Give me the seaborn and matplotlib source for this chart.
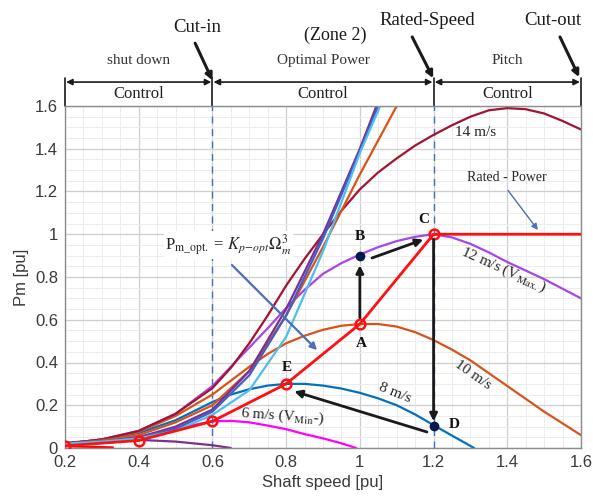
import numpy as np
import pandas as pd
import seaborn as sns
import matplotlib.pyplot as plt
from matplotlib.ticker import MultipleLocator

# power curves: shaft speed [pu] -> Pm [pu]
curves = {
    '4 m/s': ([0.2, 0.3, 0.4, 0.5, 0.6, 0.65],
              [0.025, 0.035, 0.038, 0.03, 0.013, 0.0]),
    '6 m/s': ([0.2, 0.3, 0.4, 0.5, 0.6, 0.65, 0.7, 0.75, 0.8, 0.85, 0.9, 0.95, 0.99],
              [0.015, 0.03, 0.05, 0.09, 0.125, 0.127, 0.12, 0.105, 0.088, 0.065, 0.045, 0.022, 0.0]),
    '8 m/s': ([0.2, 0.3, 0.4, 0.5, 0.6, 0.65, 0.7, 0.75, 0.8, 0.85, 0.9, 0.95, 1.0, 1.05, 1.1, 1.15, 1.2, 1.25, 1.31],
              [0.02, 0.04, 0.07, 0.13, 0.215, 0.25, 0.275, 0.292, 0.3, 0.3, 0.292, 0.278, 0.258, 0.232, 0.2, 0.157, 0.107, 0.058, 0.0]),
    '10 m/s': ([0.2, 0.3, 0.4, 0.5, 0.6, 0.7, 0.75, 0.8, 0.85, 0.9, 0.95, 1.0, 1.05, 1.1, 1.15, 1.2, 1.25, 1.3, 1.35, 1.4, 1.45, 1.5, 1.55, 1.6],
               [0.02, 0.04, 0.075, 0.15, 0.25, 0.38, 0.44, 0.49, 0.525, 0.553, 0.572, 0.58, 0.58, 0.568, 0.542, 0.505, 0.46, 0.41, 0.35, 0.29, 0.23, 0.17, 0.115, 0.06]),
    '12 m/s': ([0.2, 0.3, 0.4, 0.5, 0.6, 0.7, 0.75, 0.8, 0.85, 0.9, 0.95, 1.0, 1.05, 1.1, 1.15, 1.2, 1.25, 1.3, 1.35, 1.4, 1.45, 1.5, 1.55, 1.6],
               [0.02, 0.04, 0.08, 0.16, 0.29, 0.47, 0.56, 0.655, 0.74, 0.815, 0.865, 0.905, 0.94, 0.968, 0.988, 1.0, 0.985, 0.955, 0.915, 0.87, 0.83, 0.79, 0.745, 0.70]),
    '14 m/s': ([0.2, 0.3, 0.4, 0.5, 0.6, 0.65, 0.7, 0.75, 0.8, 0.85, 0.9, 0.95, 1.0, 1.05, 1.1, 1.15, 1.2, 1.25, 1.3, 1.35, 1.4, 1.45, 1.5, 1.55, 1.6],
               [0.02, 0.04, 0.08, 0.16, 0.28, 0.375, 0.49, 0.62, 0.76, 0.885, 1.0, 1.11, 1.21, 1.29, 1.355, 1.415, 1.465, 1.51, 1.55, 1.58, 1.59, 1.585, 1.565, 1.53, 1.49]),
    '16 m/s': ([0.2, 0.3, 0.4, 0.5, 0.6, 0.7, 0.8, 0.9, 1.0, 1.1],
               [0.02, 0.035, 0.06, 0.12, 0.2, 0.36, 0.62, 0.94, 1.28, 1.6]),
    '18 m/s': ([0.2, 0.3, 0.4, 0.5, 0.6, 0.7, 0.8, 0.9, 1.0, 1.045],
               [0.02, 0.03, 0.05, 0.1, 0.18, 0.36, 0.65, 1.0, 1.4, 1.6]),
    '20 m/s': ([0.2, 0.3, 0.4, 0.5, 0.6, 0.7, 0.8, 0.9, 1.0, 1.05],
               [0.02, 0.03, 0.047, 0.09, 0.17, 0.34, 0.62, 0.98, 1.39, 1.6]),
    '22 m/s': ([0.2, 0.3, 0.4, 0.5, 0.6, 0.7, 0.8, 0.9, 1.0, 1.055],
               [0.02, 0.03, 0.045, 0.08, 0.155, 0.27, 0.52, 0.92, 1.38, 1.6]),
    '2 m/s': ([0.2, 0.33], [0.008, 0.003]),
}
colors = {
    '4 m/s': '#7E2F8E', '6 m/s': '#FF00FF', '8 m/s': '#0072BD', '10 m/s': '#D95319',
    '12 m/s': '#A746E8', '14 m/s': '#A2142F', '16 m/s': '#D95319', '18 m/s': '#7E2F8E',
    '20 m/s': '#3F5FC8', '22 m/s': '#4DBEEE', '2 m/s': '#FF0000',
}

# optimal (MPPT) trajectory + rated power
opt_speed = [0.2, 0.4, 0.6, 0.8, 1.0, 1.2, 1.6]
opt_power = [0.01, 0.035, 0.125, 0.3, 0.58, 1.0, 1.0]
n_markers = 6

pts_B = (1.0, 0.9)
pts_D = (1.2, 0.105)
zone_edges = [0.2, 0.6, 1.2, 1.6]
zone_names = ['shut down', 'Optimal Power', 'Pitch']

rows = []
for name, (xs, ys) in curves.items():
    for x, y in zip(xs, ys):
        rows.append({'speed': x, 'pm': y, 'wind': name})
df = pd.DataFrame(rows)

sns.set_theme(style='whitegrid')
plt.rcParams['font.family'] = ['Liberation Sans', 'DejaVu Sans']
plt.rcParams['mathtext.fontset'] = 'stix'
serif = ['Liberation Serif', 'DejaVu Serif']

fig = plt.figure(figsize=(5.93, 5.03), dpi=100)
ax = fig.add_axes([65/593, 1-448/503, (581-65)/593, (448-106)/503])

sns.lineplot(data=df, x='speed', y='pm', hue='wind', palette=colors, estimator=None,
             sort=False, lw=1.6, legend=False, ax=ax)

ax.plot(opt_speed, opt_power, color='#FF1010', lw=2, zorder=5)
ax.plot(opt_speed[:n_markers], opt_power[:n_markers], 'o', ms=7, mfc='none', mec='#FF1010',
        mew=1.8, zorder=6)
ax.plot(*pts_B, 'o', ms=6, color='#0A1850', zorder=7)
ax.plot(*pts_D, 'o', ms=6, color='#0A1850', zorder=7)

for x in [0.6, 1.2]:
    ax.axvline(x, color='#3F6FC0', ls=(0, (5, 4)), lw=1, zorder=1)

ax.set_xlim(0.2, 1.6)
ax.set_ylim(0, 1.6)
ax.xaxis.set_minor_locator(MultipleLocator(0.05))
ax.yaxis.set_minor_locator(MultipleLocator(0.05))
ax.set_xticks(np.arange(0.2, 1.61, 0.2))
ax.set_xticklabels(['0.2', '0.4', '0.6', '0.8', '1', '1.2', '1.4', '1.6'])
ax.set_yticks(np.arange(0, 1.61, 0.2))
ax.set_yticklabels(['0', '0.2', '0.4', '0.6', '0.8', '1', '1.2', '1.4', '1.6'])
ax.grid(which='major', color='#cfcfcf', lw=0.9)
ax.grid(which='minor', color='#ececec', lw=0.7)
ax.set_facecolor('white')
for s in ax.spines.values():
    s.set_color('#8c8c8c')
    s.set_linewidth(1)
ax.tick_params(axis='both', which='major', labelsize=12, colors='#3a3a3a', length=0, pad=5)
ax.set_xlabel('Shaft speed [pu]', fontsize=12, color='#3a3a3a', labelpad=4)
ax.set_ylabel('Pm [pu]', fontsize=12, color='#3a3a3a', labelpad=4)

# header: zones and control bars
bar_y = 1.712
for x in zone_edges:
    ax.plot([x, x], [1.6, bar_y + 0.02], color='k', lw=1.2, clip_on=False)
for i in range(3):
    x0, x1 = zone_edges[i], zone_edges[i + 1]
    ax.annotate('', xy=(x1 - 0.003, bar_y), xytext=(x0 + 0.003, bar_y),
                arrowprops=dict(arrowstyle='<|-|>', color='k', lw=1.2, mutation_scale=9,
                                shrinkA=0, shrinkB=0), annotation_clip=False)
    ax.text((x0 + x1) / 2, 1.655, 'Control', ha='center', va='center', fontsize=12,
            family=serif, color='#222222', clip_on=False)
    ax.text((x0 + x1) / 2, 1.815, zone_names[i], ha='center', va='center', fontsize=11,
            family=serif, color='#333333', clip_on=False)
ax.text(0.933, 1.93, '(Zone 2)', ha='center', va='center', fontsize=13, family=serif, color='k')
ax.text(0.558, 1.965, 'Cut-in', ha='center', va='center', fontsize=13.5, family=serif, color='k')
ax.text(1.182, 2.0, 'Rated-Speed', ha='center', va='center', fontsize=13.5, family=serif, color='k')
ax.text(1.524, 2.0, 'Cut-out', ha='center', va='center', fontsize=13.5, family=serif, color='k')
for start, end in [((0.553, 1.894), (0.6, 1.72)), ((1.142, 1.923), (1.199, 1.73)),
                   ((1.543, 1.923), (1.595, 1.735))]:
    ax.annotate('', xy=end, xytext=start,
                arrowprops=dict(arrowstyle='-|>', color='k', lw=2.2, mutation_scale=10,
                                shrinkA=0, shrinkB=0), annotation_clip=False)

# state transition arrows
for start, end in [((1.0, 0.61), (1.0, 0.855)), ((1.033, 0.889), (1.172, 0.975)),
                   ((1.2, 0.975), (1.2, 0.125)), ((1.182, 0.075), (0.822, 0.265))]:
    ax.annotate('', xy=end, xytext=start,
                arrowprops=dict(arrowstyle='-|>', color='k', lw=2, mutation_scale=11,
                                shrinkA=0, shrinkB=0), zorder=8)

for lbl, (x, y) in {'A': (1.005, 0.49), 'B': (1.0, 0.99), 'C': (1.172, 1.07),
                    'D': (1.255, 0.108), 'E': (0.802, 0.375)}.items():
    ax.text(x, y, lbl, ha='center', va='center', fontsize=11, fontweight='bold',
            family=serif, color='#111111', zorder=9)

# curve labels
ax.text(1.313, 1.478, '14 m/s', ha='center', va='center', fontsize=11, family=serif)
ax.text(1.389, 0.835, r'12 m/s (V$_{\mathrm{Max.}}$)', ha='center', va='center', fontsize=11,
        family=serif, rotation=-24)
ax.text(1.307, 0.34, '10 m/s', ha='center', va='center', fontsize=11, family=serif, rotation=-35)
ax.text(1.096, 0.255, '8 m/s', ha='center', va='center', fontsize=11, family=serif, rotation=-22)
ax.text(0.79, 0.148, r'6 m/s (V$_{\mathrm{Min}}$-)', ha='center', va='center', fontsize=11,
        family=serif, rotation=-4)
ax.text(1.4, 1.265, 'Rated - Power', ha='center', va='center', fontsize=10, family=serif)
ax.annotate('', xy=(1.483, 1.02), xytext=(1.402, 1.205),
            arrowprops=dict(arrowstyle='-|>', color='#4A6FB8', lw=1, mutation_scale=9,
                            shrinkA=0, shrinkB=0))
ax.text(0.643, 0.95, r'P$_{\mathrm{m\_opt.}}$ = $K_{p\!-\!opt}\Omega_m^3$', ha='center',
        va='center', fontsize=12, family=serif,
        bbox=dict(facecolor='white', edgecolor='none', pad=1))
ax.annotate('', xy=(0.884, 0.458), xytext=(0.653, 0.856),
            arrowprops=dict(arrowstyle='-|>', color='#4A6FB8', lw=1.6, mutation_scale=10,
                            shrinkA=0, shrinkB=0))

fig.savefig('out.png', dpi=100)
